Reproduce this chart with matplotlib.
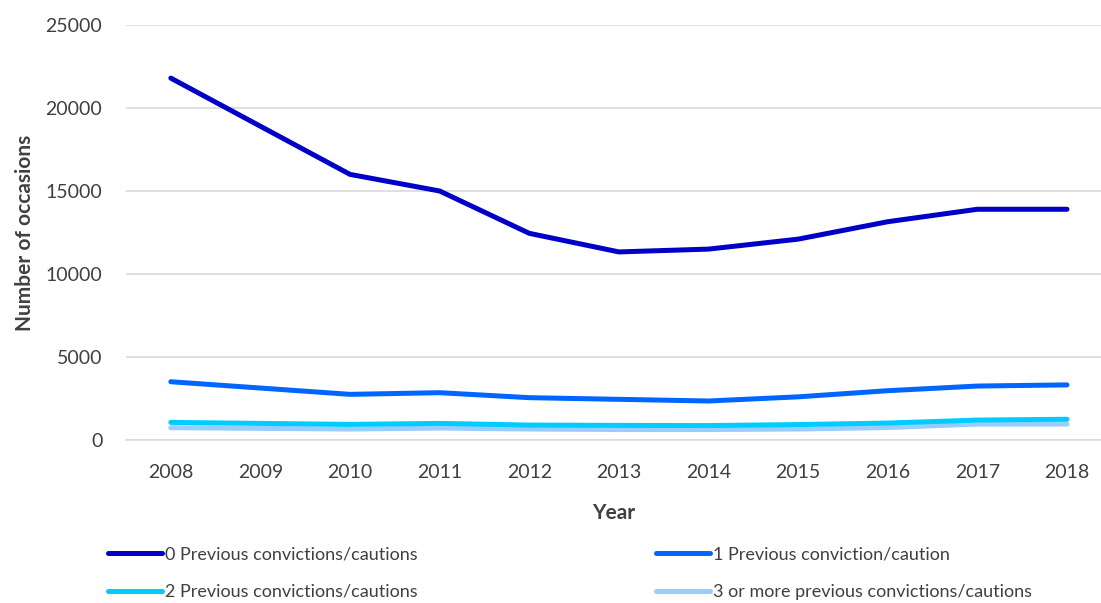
import numpy as np
import matplotlib.pyplot as plt

years = [2008, 2009, 2010, 2011, 2012, 2013, 2014, 2015, 2016, 2017, 2018]
prev0 = [21800, 18900, 16000, 15000, 12450, 11330, 11500, 12100, 13150, 13900, 13900]
prev1 = [3510, 3130, 2750, 2850, 2550, 2450, 2350, 2600, 2970, 3250, 3320]
prev2 = [1060, 1000, 940, 1000, 900, 880, 870, 930, 1020, 1200, 1250]
prev3 = [740, 700, 660, 720, 660, 630, 630, 660, 750, 960, 960]

labels = ['0 Previous convictions/cautions', '1 Previous conviction/caution',
          '2 Previous convictions/cautions', '3 or more previous convictions/cautions']
colors = ['#0000C8', '#0066FF', '#00CCFF', '#99CCFF']

plt.rcParams['font.family'] = ['Lato', 'DejaVu Sans']
txt = '#404040'

fig = plt.figure(figsize=(11.01, 6.03), dpi=100)
ax = fig.add_axes([126 / 1101, 163 / 603, (1101 - 126) / 1101, (440 - 25) / 603])

series = [prev0, prev1, prev2, prev3]
lines = []
for s, c, l in zip(series[::-1], colors[::-1], labels[::-1]):
    ln, = ax.plot(years, s, color=c, lw=3.6, solid_capstyle='round',
                  solid_joinstyle='round', label=l)
    lines.append(ln)
lines = lines[::-1]

ax.set_ylim(0, 25000)
ax.set_yticks(np.arange(0, 25001, 5000))
ax.set_xlim(2007.5, 2008 + (1101 - 171) / 89.6)
ax.set_xticks(years)
ax.grid(axis='y', color='#D9D9D9', lw=1.2)
ax.set_axisbelow(True)
for sp in ['top', 'right', 'left']:
    ax.spines[sp].set_visible(False)
ax.spines['bottom'].set_color('#D9D9D9')
ax.spines['bottom'].set_linewidth(1.2)
ax.tick_params(length=0, labelsize=14, colors=txt)
ax.tick_params(axis='x', pad=17)
ax.tick_params(axis='y', pad=17)

ax.set_xlabel('Year', fontsize=15, fontweight='bold', color=txt, labelpad=16)
ax.set_ylabel('Number of occasions', fontsize=15, fontweight='bold', color=txt, labelpad=8)

# legend filled row by row, like the original
order = [0, 2, 1, 3]
fig.legend([lines[i] for i in order], [labels[i] for i in order], ncol=2,
           loc='upper left', bbox_to_anchor=(92 / 1101, 1 - 530 / 603),
           frameon=False, fontsize=13, labelcolor=txt, handlelength=3.0,
           handletextpad=0.15, columnspacing=13.2, labelspacing=1.2)

fig.savefig('out.png', dpi=100)
